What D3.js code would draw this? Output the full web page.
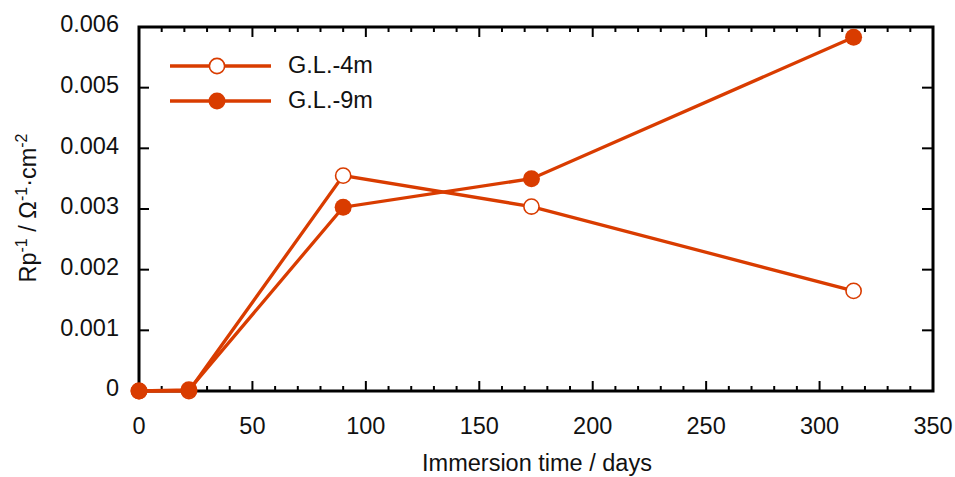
<!DOCTYPE html>
<html>
<head>
<meta charset="utf-8">
<script src="https://cdn.jsdelivr.net/npm/d3@7/dist/d3.min.js"></script>
<style>
html,body{margin:0;padding:0;background:#fff;}
text{font-family:"Liberation Sans",Arial,sans-serif;fill:#111;}
</style>
</head>
<body>
<svg id="chart" width="955" height="477"></svg>
<script>
const days = [0, 22, 90, 173, 315];
const gl4m = [0, 0, 0.00355, 0.00304, 0.00165];
const gl9m = [0, 0.00002, 0.00303, 0.0035, 0.00583];
const seriesNames = ["G.L.-4m", "G.L.-9m"];
const xTicks = [0, 50, 100, 150, 200, 250, 300, 350];
const yTicks = [0, 0.001, 0.002, 0.003, 0.004, 0.005, 0.006];
const yTickLabels = ["0", "0.001", "0.002", "0.003", "0.004", "0.005", "0.006"];

const color = "#d93c00";
const FS = 23.5;
const svg = d3.select("#chart");
const L = 139, R = 933, T = 27, B = 391;
const x = d3.scaleLinear().domain([0, 350]).range([L, R]);
const y = d3.scaleLinear().domain([0, 0.006]).range([B, T]);

const minorX = d3.range(0, 351, 10).filter(v => v % 50 !== 0);
const g = svg.append("g");
minorX.forEach(v => {
  g.append("line").attr("x1", x(v)).attr("x2", x(v)).attr("y1", B).attr("y2", B - 5).attr("stroke", "#000").attr("stroke-width", 2);
  g.append("line").attr("x1", x(v)).attr("x2", x(v)).attr("y1", T).attr("y2", T + 5).attr("stroke", "#000").attr("stroke-width", 2);
});
xTicks.forEach(v => {
  g.append("line").attr("x1", x(v)).attr("x2", x(v)).attr("y1", B).attr("y2", B - 10).attr("stroke", "#000").attr("stroke-width", 2);
  g.append("line").attr("x1", x(v)).attr("x2", x(v)).attr("y1", T).attr("y2", T + 10).attr("stroke", "#000").attr("stroke-width", 2);
  g.append("text").attr("x", x(v)).attr("y", 434).attr("text-anchor", "middle").attr("font-size", FS).text(v);
});
yTicks.forEach((v, i) => {
  g.append("line").attr("x1", L).attr("x2", L + 10).attr("y1", y(v)).attr("y2", y(v)).attr("stroke", "#000").attr("stroke-width", 2);
  g.append("line").attr("x1", R).attr("x2", R - 11).attr("y1", y(v)).attr("y2", y(v)).attr("stroke", "#000").attr("stroke-width", 2);
  g.append("text").attr("x", 119).attr("y", y(v)).attr("dy", "0.22em").attr("text-anchor", "end").attr("font-size", FS).text(yTickLabels[i]);
});
svg.append("rect").attr("x", L).attr("y", T).attr("width", R - L).attr("height", B - T)
  .attr("fill", "none").attr("stroke", "#000").attr("stroke-width", 3);

svg.append("text").attr("x", 537).attr("y", 471).attr("text-anchor", "middle").attr("font-size", FS).text("Immersion time / days");
const yl = svg.append("text").attr("transform", "translate(36,208) rotate(-90)").attr("text-anchor", "middle").attr("font-size", FS);
yl.append("tspan").text("Rp");
yl.append("tspan").attr("dy", -9).attr("font-size", 16).text("-1");
yl.append("tspan").attr("dy", 9).text(" / Ω");
yl.append("tspan").attr("dy", -9).attr("font-size", 16).text("-1");
yl.append("tspan").attr("dy", 9).text("·cm");
yl.append("tspan").attr("dy", -9).attr("font-size", 16).text("-2");

const line = d3.line().x(d => x(d[0])).y(d => y(d[1]));
const data4 = days.map((d, i) => [d, gl4m[i]]);
const data9 = days.map((d, i) => [d, gl9m[i]]);

function drawSeries(data, filled) {
  svg.append("path").datum(data).attr("d", line).attr("fill", "none").attr("stroke", color).attr("stroke-width", 3.3);
  svg.selectAll(null).data(data).enter().append("circle")
    .attr("cx", d => x(d[0])).attr("cy", d => y(d[1])).attr("r", filled ? 8.5 : 7.6)
    .attr("fill", filled ? color : "#fff").attr("stroke", color).attr("stroke-width", filled ? 0 : 1.6);
}
drawSeries(data4, false);
drawSeries(data9, true);

[[66, false], [101, true]].forEach(([ly, filled], i) => {
  svg.append("line").attr("x1", 170).attr("x2", 271).attr("y1", ly).attr("y2", ly).attr("stroke", color).attr("stroke-width", 3.3);
  svg.append("circle").attr("cx", 217).attr("cy", ly).attr("r", filled ? 8.5 : 7.6)
    .attr("fill", filled ? color : "#fff").attr("stroke", color).attr("stroke-width", filled ? 0 : 1.6);
  svg.append("text").attr("x", 288).attr("y", ly).attr("dy", "0.3em").attr("font-size", FS).text(seriesNames[i]);
});
</script>
</body>
</html>
